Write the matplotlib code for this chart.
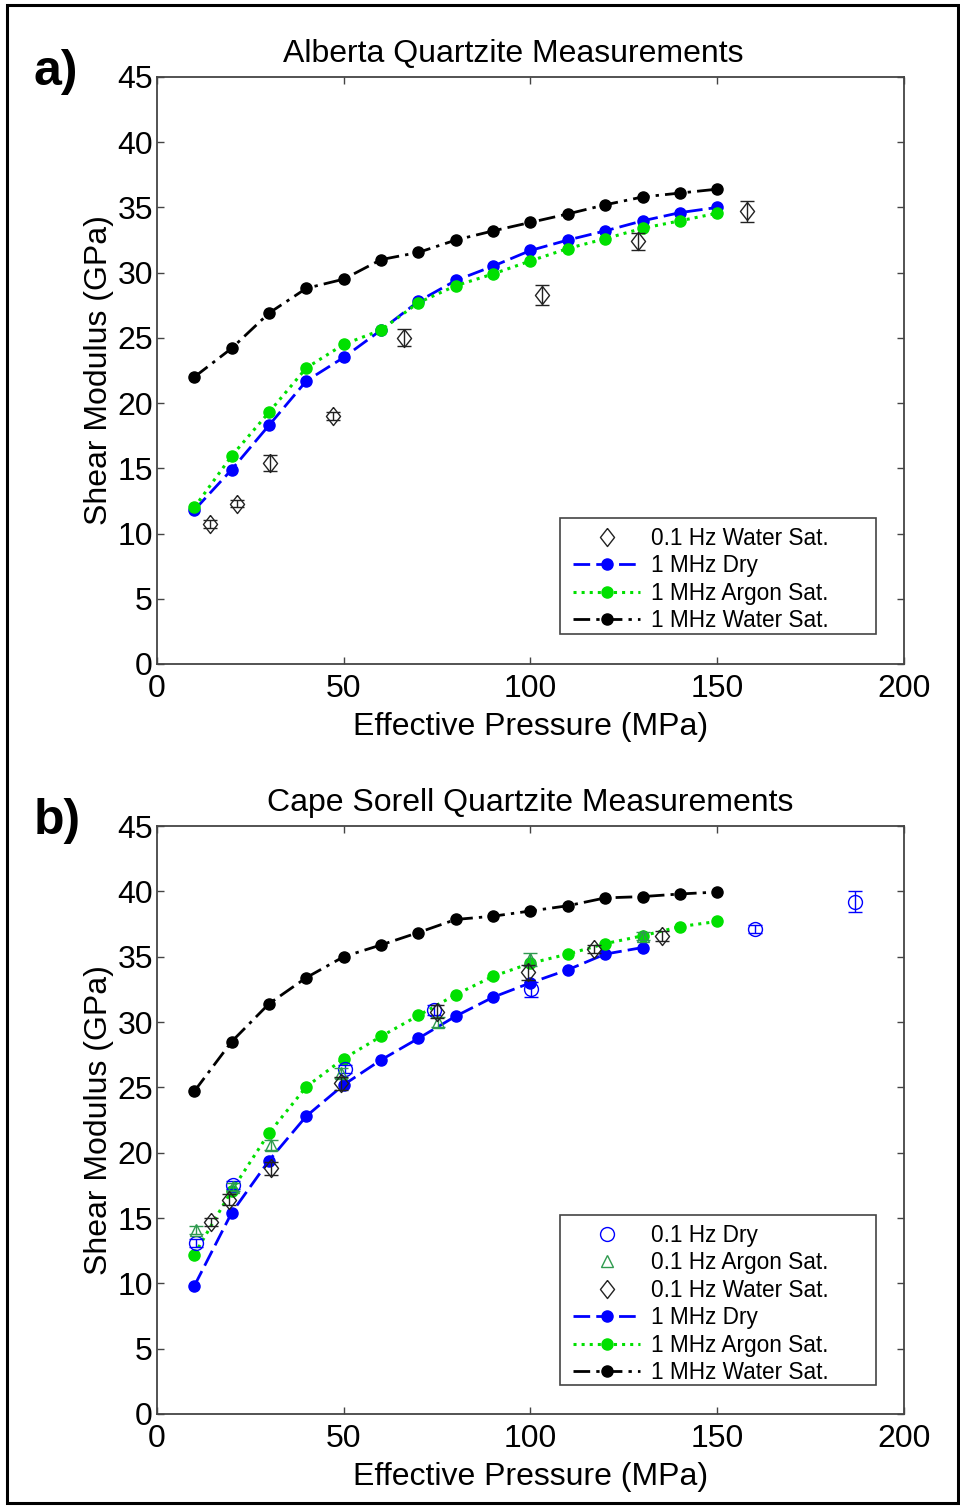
import matplotlib
matplotlib.use("Agg")
import matplotlib.pyplot as plt
from matplotlib.patches import Rectangle

plt.rcParams['font.family'] = ['Liberation Sans', 'DejaVu Sans']

# ultrasonic pressures (MPa)
p_mhz = [10, 20, 30, 40, 50, 60, 70, 80, 90, 100, 110, 120, 130, 140, 150]

# a) Alberta Quartzite
a_dry = [11.8, 14.9, 18.3, 21.7, 23.5, 25.6, 27.8, 29.4, 30.5, 31.7,
         32.5, 33.2, 33.97, 34.6, 35.0]
a_argon = [12.0, 15.95, 19.3, 22.7, 24.5, 25.6, 27.7, 29.0, 29.9, 30.9,
           31.85, 32.6, 33.4, 33.97, 34.56]
a_water = [22.0, 24.2, 26.9, 28.8, 29.5, 31.0, 31.55, 32.5, 33.2, 33.85,
           34.5, 35.2, 35.8, 36.1, 36.4]
a_lf_p = [14.2, 21.3, 30.3, 47.2, 66.2, 103.0, 128.9, 158.0]
a_lf_water = [10.7, 12.3, 15.4, 19.0, 25.0, 28.3, 32.4, 34.7]
a_lf_err = [0.3, 0.3, 0.6, 0.3, 0.65, 0.75, 0.65, 0.8]

# b) Cape Sorell Quartzite
b_dry_p = p_mhz[:13]
b_dry = [9.8, 15.4, 19.4, 22.8, 25.2, 27.1, 28.75, 30.45, 31.9, 33.0,
         34.0, 35.2, 35.7]
b_argon = [12.2, 17.1, 21.5, 25.05, 27.2, 28.9, 30.5, 32.1, 33.5, 34.5,
           35.2, 36.0, 36.6, 37.3, 37.7]
b_water = [24.7, 28.5, 31.4, 33.4, 35.0, 35.9, 36.85, 37.85, 38.1, 38.5,
           38.9, 39.5, 39.6, 39.8, 39.95]
b_lf_dry_p = [10.4, 20.4, 50.3, 74.2, 100.1, 160.1, 186.9]
b_lf_dry = [13.1, 17.5, 26.4, 30.9, 32.5, 37.1, 39.2]
b_lf_dry_err = [0.3, 0.3, 0.3, 0.4, 0.6, 0.3, 0.8]
b_lf_argon_p = [10.4, 20.4, 30.4, 49.3, 75.2, 100.0, 130.2]
b_lf_argon = [14.1, 17.4, 20.6, 26.1, 30.0, 34.8, 36.6]
b_lf_argon_err = [0.3, 0.3, 0.4, 0.4, 0.4, 0.5, 0.3]
b_lf_water_p = [14.4, 19.3, 30.4, 49.3, 75.0, 99.2, 117.0, 135.1]
b_lf_water = [14.7, 16.4, 18.8, 25.3, 30.8, 33.8, 35.6, 36.6]
b_lf_water_err = [0.3, 0.4, 0.5, 0.5, 0.5, 0.6, 0.3, 0.4]

BLUE = '#0000ff'
LIME = '#00e000'
DKGREEN = '#2e9a4e'
# slightly tall diamond, like the MATLAB one
DIAMOND = [(0, 1), (0.78, 0), (0, -1), (-0.78, 0), (0, 1)]

fig = plt.figure(figsize=(9.6, 15.06), dpi=100)
ax_a = fig.add_axes([0.1635, 0.5591, 0.7782, 0.3898])
ax_b = fig.add_axes([0.1635, 0.0611, 0.7782, 0.3904])


def lf_points(ax, p, g, err, marker, color, label, ms):
    # error bars first, then the markers (which also give the legend entry)
    ax.errorbar(p, g, yerr=err, fmt='none', ecolor=color, elinewidth=1.0,
                capsize=5, capthick=1.0, zorder=5)
    ax.plot(p, g, ls='none', marker=marker, mfc='none', mec=color,
            ms=ms, mew=1.0, label=label, zorder=5)


def mhz_lines(ax, p_dry, dry, argon, water):
    ax.plot(p_dry, dry, '--', color=BLUE, marker='o', ms=8, lw=2.0,
            dashes=(6, 2.2), label='1 MHz Dry', zorder=3)
    ax.plot(p_mhz, argon, ':', color=LIME, marker='o', ms=8, lw=2.2,
            label='1 MHz Argon Sat.', zorder=3)
    ax.plot(p_mhz, water, '-.', color='black', marker='o', ms=8, lw=2.0,
            dashes=(6, 2.2, 1.2, 2.2), label='1 MHz Water Sat.', zorder=3)


def style(ax, title, title_x, leg_y0, leg_y1):
    ax.set_xlim(0, 200)
    ax.set_ylim(0, 45)
    ax.set_xticks(range(0, 201, 50))
    ax.set_yticks(range(0, 46, 5))
    ax.tick_params(direction='in', top=True, right=True, length=5,
                   width=1.0, color='#444444', labelsize=23)
    ax.tick_params(axis='x', pad=7)
    ax.tick_params(axis='y', pad=3)
    for s in ax.spines.values():
        s.set_color('#444444')
        s.set_linewidth(1.3)
    ax.set_title(title, fontsize=23, pad=11, x=title_x)
    ax.set_xlabel('Effective Pressure (MPa)', fontsize=23, labelpad=6)
    ax.set_ylabel('Shear Modulus (GPa)', fontsize=23, labelpad=2)
    # MATLAB-style legend box: wider than its contents
    ax.add_patch(Rectangle((0.5395, leg_y0), 0.423, leg_y1 - leg_y0,
                           transform=ax.transAxes, facecolor='white',
                           edgecolor='#444444', lw=1.2, zorder=8))
    leg = ax.legend(loc='upper left', bbox_to_anchor=(0.5448, leg_y1),
                    borderaxespad=0, fontsize=16.3, numpoints=1,
                    handlelength=3.0, handletextpad=0.45, labelspacing=0.2,
                    borderpad=0.38, frameon=False)
    leg.set_zorder(9)


lf_points(ax_a, a_lf_p, a_lf_water, a_lf_err, DIAMOND, '#222222',
          '0.1 Hz Water Sat.', 13)
mhz_lines(ax_a, p_mhz, a_dry, a_argon, a_water)
style(ax_a, 'Alberta Quartzite Measurements', 0.477, 0.0511, 0.2487)

lf_points(ax_b, b_lf_dry_p, b_lf_dry, b_lf_dry_err, 'o', BLUE,
          '0.1 Hz Dry', 10)
lf_points(ax_b, b_lf_argon_p, b_lf_argon, b_lf_argon_err, '^', DKGREEN,
          '0.1 Hz Argon Sat.', 9)
lf_points(ax_b, b_lf_water_p, b_lf_water, b_lf_water_err, DIAMOND,
          '#222222', '0.1 Hz Water Sat.', 13)
mhz_lines(ax_b, b_dry_p, b_dry, b_argon, b_water)
style(ax_b, 'Cape Sorell Quartzite Measurements', 0.5, 0.0493, 0.3384)

fig.text(0.035, 0.952, 'a)', fontsize=36, fontweight='bold', ha='left',
         va='center')
fig.text(0.035, 0.455, 'b)', fontsize=36, fontweight='bold', ha='left',
         va='center')

fig.patches.append(Rectangle((0.007, 0.002), 0.991, 0.995,
                             transform=fig.transFigure, fill=False,
                             edgecolor='black', linewidth=2.2))

fig.savefig('out.png', dpi=100)
